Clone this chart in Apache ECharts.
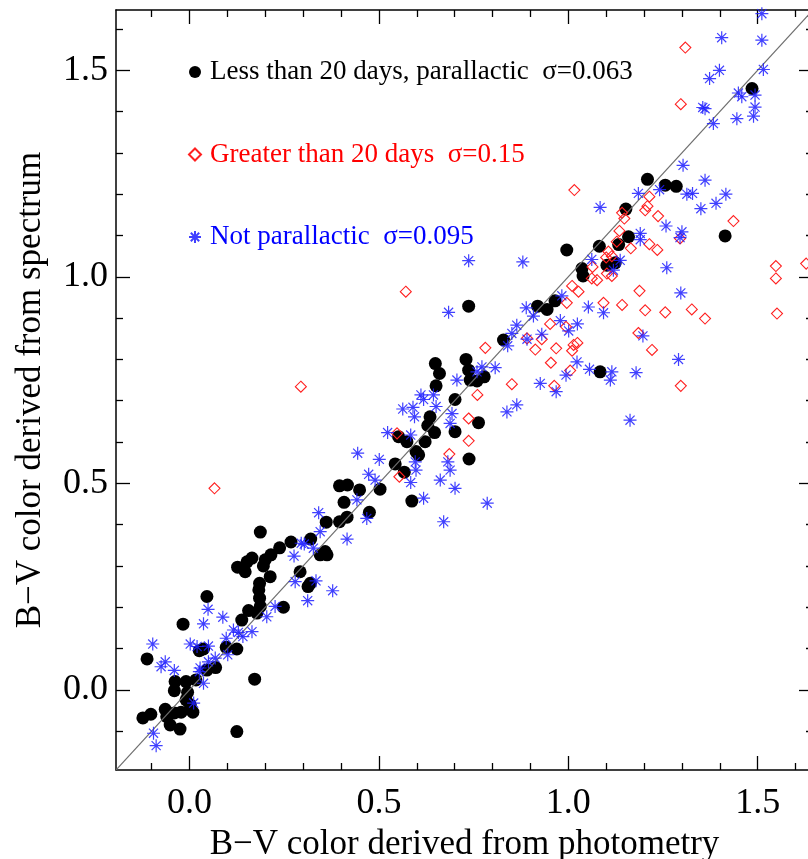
<!DOCTYPE html>
<html>
<head>
<meta charset="utf-8">
<script src="https://cdn.jsdelivr.net/npm/echarts@6/dist/echarts.min.js"></script>
<style>
html,body{margin:0;padding:0;background:#fff;}
#chart{width:808px;height:859px;}
</style>
</head>
<body>
<div id="chart"></div>
<script>
// ---------------- data ----------------
const axisRange = [-0.194, 1.646];
const majorTicks = [0, 0.5, 1.0, 1.5];
const tickLabels = ['0.0', '0.5', '1.0', '1.5'];
const minorTicks = [-0.1, 0.1, 0.2, 0.3, 0.4, 0.6, 0.7, 0.8, 0.9, 1.1, 1.2, 1.3, 1.4, 1.6];

const seriesNames = [
  'Less than 20 days, parallactic  \u03c3=0.063',
  'Greater than 20 days  \u03c3=0.15',
  'Not parallactic  \u03c3=0.095'
];
const xTitle = 'B\u2212V color derived from photometry';
const yTitle = 'B\u2212V color derived from spectrum';

const oneToOne = [[-0.3, -0.3], [1.8, 1.8]];

const lessThan20 = [
  [-0.123,-0.068],[-0.102,-0.059],[-0.112,0.075],[-0.064,-0.047],[-0.051,-0.085],[-0.025,-0.095],
  [-0.040,-0.056],[-0.022,-0.054],[-0.038,0.020],[-0.040,-0.002],[-0.009,0.020],[0.017,0.024],
  [-0.005,-0.006],[-0.009,-0.024],[0.002,-0.036],[0.009,-0.054],[-0.060,-0.065],[0.125,-0.101],
  [0.172,0.026],[-0.017,0.159],[0.026,0.095],[0.037,0.099],[0.046,0.048],[0.069,0.054],
  [0.097,0.103],[0.125,0.099],[0.138,0.169],[0.156,0.192],[0.178,0.186],[0.187,0.202],
  [0.185,0.222],[0.183,0.242],[0.185,0.258],[0.213,0.274],[0.046,0.226],[0.187,0.382],
  [0.127,0.297],[0.147,0.286],[0.152,0.310],[0.165,0.319],[0.195,0.300],[0.200,0.315],
  [0.215,0.327],[0.238,0.344],[0.268,0.358],[0.248,0.200],[0.292,0.286],[0.313,0.250],
  [0.319,0.258],[0.320,0.365],[0.345,0.327],[0.363,0.327],[0.358,0.335],[0.361,0.406],
  [0.396,0.407],[0.416,0.418],[0.408,0.454],[0.396,0.494],[0.417,0.496],[0.449,0.484],
  [0.475,0.430],[0.503,0.486],[0.587,0.457],[0.543,0.547],[0.567,0.527],[0.552,0.613],
  [0.574,0.601],[0.598,0.577],[0.605,0.569],[0.622,0.601],[0.635,0.661],[0.629,0.640],
  [0.649,0.790],[0.660,0.766],[0.651,0.736],[0.730,0.800],[0.737,0.774],[0.741,0.750],
  [0.759,0.748],[0.778,0.758],[0.701,0.703],[0.763,0.647],[0.701,0.625],[0.738,0.559],
  [0.829,0.847],[0.919,0.929],[0.944,0.921],[0.965,0.942],[1.036,1.020],[1.039,1.002],
  [1.102,1.028],[1.124,1.034],[0.996,1.065],[0.737,0.929],[1.084,0.770],[0.647,0.623],
  [1.152,1.164],[1.159,1.097],[1.133,1.078],[1.082,1.074],[1.209,1.236],[1.256,1.222],
  [1.285,1.219],[1.414,1.099],[1.485,1.456]
];

const greaterThan20 = [
  [0.066,0.488],[0.294,0.734],[0.571,0.964],[0.548,0.621],[0.554,0.516],[1.016,1.210],
  [1.010,0.978],[1.027,0.964],[0.996,0.937],[1.093,0.937],[1.142,0.932],[1.062,0.996],
  [1.076,0.992],[1.106,1.061],[1.115,1.050],[1.100,1.047],[1.135,1.111],[1.148,1.141],
  [1.142,1.155],[1.128,1.085],[1.165,1.069],[0.952,0.886],[0.994,0.879],[0.891,0.851],
  [0.930,0.849],[0.781,0.828],[0.913,0.824],[0.968,0.827],[1.014,0.835],[1.024,0.840],
  [1.010,0.821],[0.954,0.792],[1.005,0.773],[0.851,0.740],[0.963,0.736],[0.760,0.714],
  [1.188,0.966],[1.185,0.864],[1.297,1.418],[1.214,1.194],[1.209,1.171],[1.203,1.161],
  [1.237,1.147],[1.436,1.135],[1.295,1.093],[1.214,1.079],[1.235,1.065],[1.064,1.024],
  [1.203,0.919],[1.256,0.914],[1.326,0.921],[1.361,0.899],[1.548,1.026],[1.548,0.996],
  [1.551,0.911],[1.115,1.002],[1.102,1.008],[1.309,1.555],[1.628,1.032],[0.686,0.571],
  [0.737,0.657],[0.737,0.603],[1.221,0.823],[1.297,0.736]
];

const notParallactic = [
  [-0.097,0.111],[-0.095,-0.105],[-0.088,-0.135],[-0.075,0.056],[-0.064,0.068],[-0.040,0.047],
  [0.002,0.111],[0.020,0.105],[0.050,0.106],[0.037,0.160],[0.049,0.195],[0.088,0.176],
  [0.068,0.077],[0.028,0.053],[0.026,0.044],[0.037,0.016],[0.050,0.068],[0.101,0.085],
  [0.116,0.145],[0.129,0.139],[0.141,0.129],[0.165,0.141],[0.097,0.125],[0.011,-0.032],
  [0.204,0.177],[0.226,0.202],[0.276,0.324],[0.279,0.262],[0.295,0.355],[0.303,0.353],
  [0.334,0.264],[0.312,0.216],[0.327,0.343],[0.345,0.383],[0.341,0.429],[0.378,0.240],
  [0.416,0.365],[0.442,0.460],[0.468,0.415],[0.490,0.508],[0.584,0.502],[0.618,0.464],
  [0.671,0.407],[0.662,0.508],[0.444,0.573],[0.501,0.558],[0.473,0.522],[0.523,0.623],
  [0.563,0.680],[0.590,0.684],[0.594,0.661],[0.611,0.714],[0.618,0.703],[0.584,0.617],
  [0.596,0.552],[0.598,0.532],[1.084,1.168],[1.185,1.202],[0.737,1.039],[0.880,1.036],
  [0.684,0.914],[1.062,1.042],[1.137,1.040],[1.119,1.016],[0.983,0.954],[1.053,0.927],
  [1.093,0.913],[0.889,0.925],[0.908,0.905],[0.864,0.883],[0.851,0.863],[0.840,0.833],
  [0.891,0.849],[0.930,0.861],[0.979,0.894],[1.001,0.869],[1.024,0.886],[1.023,0.794],
  [0.994,0.762],[1.056,0.776],[1.115,0.770],[1.111,0.750],[1.179,0.768],[0.807,0.780],
  [0.772,0.782],[0.759,0.770],[0.706,0.750],[0.926,0.742],[0.968,0.722],[0.644,0.714],
  [1.355,1.410],[1.445,1.383],[1.489,1.389],[1.493,1.411],[1.383,1.371],[1.303,1.270],
  [1.361,1.234],[1.416,1.200],[1.390,1.178],[1.350,1.165],[1.313,1.200],[1.328,1.202],
  [1.241,1.211],[1.258,1.123],[1.300,1.109],[1.295,1.095],[1.190,1.105],[1.190,1.090],
  [1.260,1.022],[1.297,0.961],[1.511,1.637],[1.405,1.579],[1.511,1.573],[1.515,1.502],
  [1.399,1.500],[1.373,1.480],[1.449,1.445],[1.458,1.436],[1.493,1.440],[1.361,1.407],
  [1.197,0.857],[1.291,0.800],[1.163,0.653],[0.864,0.690],[0.838,0.673],[0.651,0.686],
  [0.693,0.669],[0.688,0.645],[0.682,0.552],[0.688,0.532],[0.701,0.488],[0.786,0.452]
];

// ---------------- styling ----------------
const FONT = 'Liberation Serif';
const asteriskPath = 'path://M6,0L6,12M0,6L12,6M1.8,1.8L10.2,10.2M1.8,10.2L10.2,1.8';

function fmt(v) {
  const i = majorTicks.findIndex(t => Math.abs(t - v) < 1e-9);
  return i >= 0 ? tickLabels[i] : '';
}

function makeAxis(pos, major, withLabels, title, nameGap) {
  const ticks = major ? majorTicks : minorTicks;
  const ax = {
    type: 'value',
    position: pos,
    min: axisRange[0],
    max: axisRange[1],
    scale: true,
    splitLine: { show: false },
    axisLine: { show: major, onZero: false, lineStyle: { color: '#000', width: 1.5 } },
    axisTick: {
      show: true, inside: true, length: major ? 14 : 7,
      customValues: ticks,
      lineStyle: { color: '#000', width: 1.3 }
    },
    axisLabel: {
      show: withLabels,
      customValues: majorTicks,
      formatter: fmt,
      fontFamily: FONT, fontSize: 36, color: '#000',
      margin: (pos === 'bottom') ? 16 : 8
    }
  };
  if (title) {
    ax.name = title;
    ax.nameLocation = 'middle';
    ax.nameGap = nameGap;
    ax.nameTextStyle = { fontFamily: FONT, fontSize: 35, color: '#000' };
  }
  return ax;
}

const chart = echarts.init(document.getElementById('chart'), null, { renderer: 'canvas' });

const option = {
  backgroundColor: '#fff',
  animation: false,
  grid: { left: 116, top: 10, width: 697, height: 760, containLabel: false, outerBoundsMode: 'none' },
  legend: {
    orient: 'vertical',
    left: 183,
    top: 52,
    itemGap: 52.5,
    itemWidth: 12,
    itemHeight: 12,
    selectedMode: false,
    textStyle: { fontFamily: FONT, fontSize: 27, lineHeight: 30, padding: [0, 0, 0, 4] },
    data: [
      { name: seriesNames[0], textStyle: { color: '#000000' } },
      { name: seriesNames[1], textStyle: { color: '#ff0000' } },
      { name: seriesNames[2], textStyle: { color: '#0000ff' } }
    ]
  },
  xAxis: [
    makeAxis('bottom', true, true, xTitle, 53),
    makeAxis('bottom', false, false),
    makeAxis('top', true, false),
    makeAxis('top', false, false)
  ],
  yAxis: [
    makeAxis('left', true, true, yTitle, 68),
    makeAxis('left', false, false),
    makeAxis('right', true, false),
    makeAxis('right', false, false)
  ],
  series: [
    {
      name: seriesNames[0],
      type: 'scatter',
      data: lessThan20,
      symbol: 'circle',
      symbolSize: 13,
      itemStyle: { color: '#000', opacity: 1 },
      emphasis: { disabled: true },
      z: 2
    },
    {
      name: 'one-to-one',
      type: 'line',
      data: oneToOne,
      symbol: 'none',
      lineStyle: { color: '#6e6e6e', width: 1.2 },
      clip: true,
      silent: true,
      emphasis: { disabled: true },
      z: 3
    },
    {
      name: seriesNames[1],
      type: 'scatter',
      data: greaterThan20,
      symbol: 'diamond',
      symbolSize: 11,
      itemStyle: { color: 'rgba(255,255,255,0)', borderColor: '#ff2020', borderWidth: 1.1, opacity: 1 },
      emphasis: { disabled: true },
      z: 4
    },
    {
      name: seriesNames[2],
      type: 'scatter',
      data: notParallactic,
      symbol: asteriskPath,
      symbolSize: 13,
      itemStyle: { color: 'rgba(255,255,255,0)', borderColor: 'rgba(30,30,255,0.85)', borderWidth: 1.2, opacity: 1 },
      emphasis: { disabled: true },
      z: 5
    }
  ]
};

chart.setOption(option);
</script>
</body>
</html>
